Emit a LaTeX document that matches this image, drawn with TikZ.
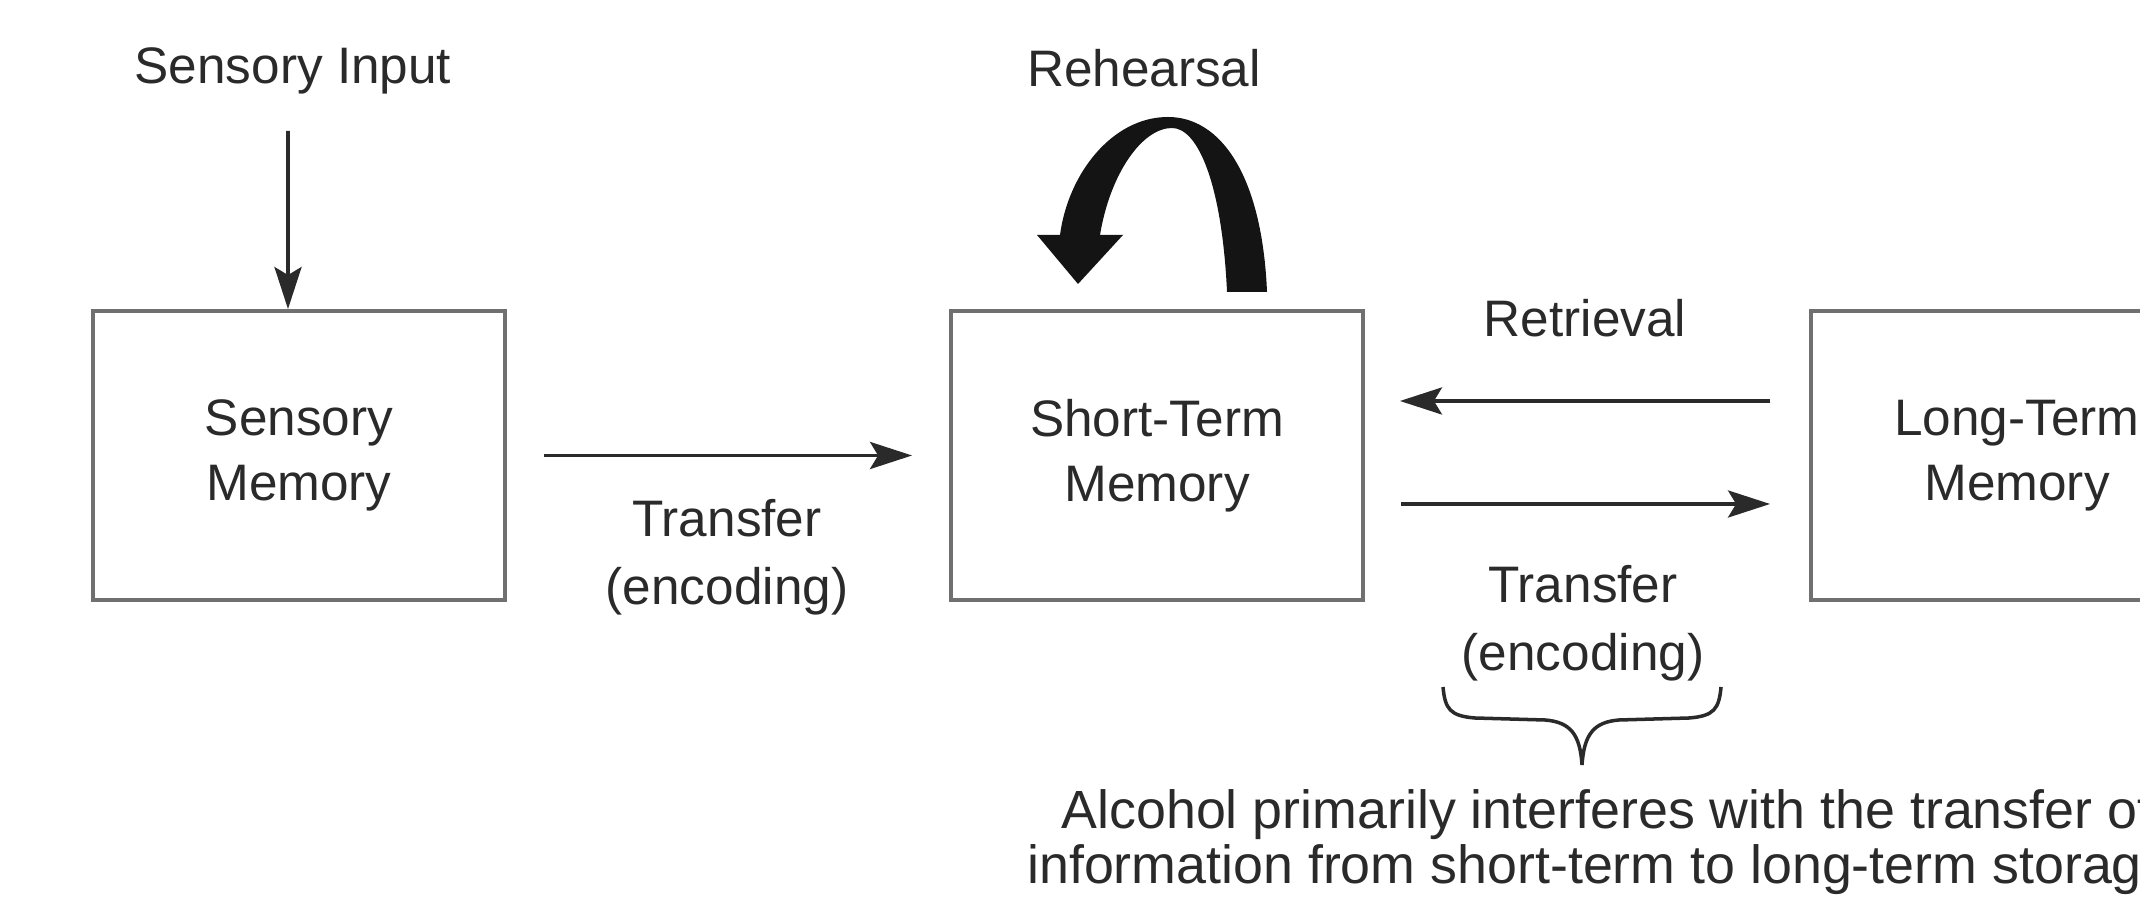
\documentclass[tikz,border=0pt]{standalone}
\usepackage{fontspec}
\setmainfont{Liberation Sans}
\usetikzlibrary{arrows.meta}
\definecolor{inkgray}{HTML}{2A2A2A}
\definecolor{boxgray}{HTML}{707070}

\begin{document}
\begin{tikzpicture}[
		memorybox/.style={draw=boxgray, line width=1.1pt, minimum width=4.12cm, minimum height=2.89cm, align=center, text=inkgray, font=\fontsize{14.6}{18.5}\selectfont},
		flowtext/.style={align=center, text=inkgray, inner sep=0pt, font=\fontsize{14.6}{19.4}\selectfont},
		flowarrow/.style={draw=inkgray, line width=1.1pt, -{Stealth[length=0.42cm, width=0.27cm, inset=0.08cm]}}
	]
		% Paths, nodes and wires:
		\clip (0, 0) rectangle (21.4, 9.04);
		\node[memorybox] (sensory) at (2.99, 4.485){Sensory\\Memory};
		\node[memorybox] (short) at (11.57, 4.485){Short-Term\\Memory};
		\node[memorybox] (long) at (20.17, 4.485){Long-Term\\Memory};
		\node[flowtext] (input) at (2.93, 8.33){Sensory Input};
		\node[flowtext] (rehearsal) at (11.44, 8.36){Rehearsal};
		\node[flowtext] (retrieval) at (15.85, 5.86){Retrieval};
		\node[flowtext] (encodeA) at (7.27, 3.47){Transfer\\(encoding)};
		\node[flowtext] (encodeB) at (15.83, 2.81){Transfer\\(encoding)};
		\node[flowtext, font=\fontsize{15.3}{15.8}\selectfont] (alcohol) at (16.07, 0.62){Alcohol primarily interferes with the transfer of\\information from short-term to long-term storage.};
		\draw[flowarrow, shorten <=0.36cm] ([xshift=-0.05cm]input.south) -- ([xshift=-0.11cm]sensory.north);
		\draw[flowarrow, shorten <=0.37cm, shorten >=0.37cm] (sensory.east) -- (short.west);
		\draw[flowarrow, shorten <=0.39cm, shorten >=0.35cm] ([yshift=0.545cm]long.west) -- ([yshift=0.545cm]short.east);
		\draw[flowarrow, shorten <=0.36cm, shorten >=0.39cm] ([yshift=-0.485cm]short.east) -- ([yshift=-0.485cm]long.west);
		% rehearsal loop
		\fill[black!92] (12.67, 6.12) .. controls (12.62, 7.3) and (12.2, 7.87) .. (11.68, 7.87)
			.. controls (11.12, 7.87) and (10.68, 7.3) .. (10.60, 6.69) -- (10.37, 6.69) -- (10.78, 6.20) -- (11.23, 6.69) -- (11.00, 6.69)
			.. controls (11.1, 7.3) and (11.42, 7.76) .. (11.72, 7.76)
			.. controls (11.98, 7.76) and (12.22, 7.2) .. (12.27, 6.12) -- cycle;
		% brace under the encoding label
		\draw[inkgray, line width=1pt] (14.43, 2.17) .. controls (14.45, 1.95) and (14.5, 1.88) .. (14.75, 1.86)
			-- (15.45, 1.84) .. controls (15.7, 1.82) and (15.8, 1.7) .. (15.82, 1.39)
			.. controls (15.84, 1.7) and (15.94, 1.82) .. (16.19, 1.84)
			-- (16.89, 1.86) .. controls (17.14, 1.88) and (17.19, 1.95) .. (17.21, 2.17);
	\end{tikzpicture}
\end{document}
